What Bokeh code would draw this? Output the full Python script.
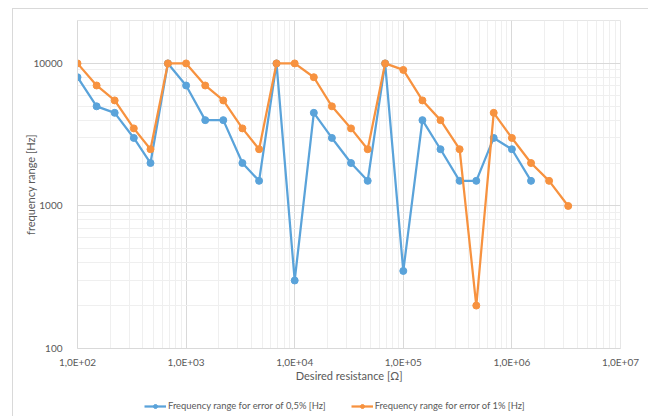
from bokeh.plotting import figure
from bokeh.layouts import column
from bokeh.models import FixedTicker, Legend, LegendItem, Range1d
from bokeh.embed import file_html
from bokeh.resources import INLINE

resistance = [100, 150, 220, 330, 470, 680, 1000, 1500, 2200, 3300, 4700, 6800,
              10000, 15000, 22000, 33000, 47000, 68000, 100000, 150000, 220000,
              330000, 470000, 680000, 1000000, 1500000, 2200000, 3300000]
freq_05 = [8000, 5000, 4500, 3000, 2000, 10000, 7000, 4000, 4000, 2000, 1500, 10000,
           300, 4500, 3000, 2000, 1500, 10000, 350, 4000, 2500, 1500, 1500, 3000,
           2500, 1500]
freq_1 = [10000, 7000, 5500, 3500, 2500, 10000, 10000, 7000, 5500, 3500, 2500, 10000,
          10000, 8000, 5000, 3500, 2500, 10000, 9000, 5500, 4000, 2500, 200, 4500,
          3000, 2000, 1500, 1000]

x_ticks = [100, 1000, 10000, 100000, 1000000, 10000000]
x_tick_labels = ["1,0E+02", "1,0E+03", "1,0E+04", "1,0E+05", "1,0E+06", "1,0E+07"]
y_ticks = [100, 1000, 10000]
y_tick_labels = ["100", "1000", "10000"]

label_05 = "Frequency range for error of 0,5% [Hz]"
label_1 = "Frequency range for error of 1% [Hz]"

BLUE = "#5AA3DA"
ORANGE = "#F7923F"
TEXT = "#595959"
FONT = "Lato"

p = figure(frame_width=543, frame_height=328, x_axis_type="log", y_axis_type="log",
           x_range=Range1d(100, 1e7), y_range=Range1d(100, 20000),
           output_backend="svg", toolbar_location=None,
           min_border_left=77, min_border_right=28, min_border_top=20,
           min_border_bottom=42)
p.border_fill_color = None

x_minor = [m * 10 ** e for e in range(2, 7) for m in range(2, 10)]
y_minor = [m * 10 ** e for e in range(2, 5) for m in range(2, 10)]

p.xaxis.ticker = FixedTicker(ticks=x_ticks, minor_ticks=x_minor)
p.yaxis.ticker = FixedTicker(ticks=y_ticks, minor_ticks=y_minor)
p.xaxis.major_label_overrides = {t: l for t, l in zip(x_ticks, x_tick_labels)}
p.yaxis.major_label_overrides = {t: l for t, l in zip(y_ticks, y_tick_labels)}

for ax in (p.xaxis, p.yaxis):
    ax.axis_line_color = "#d9d9d9"
    ax.major_tick_line_color = None
    ax.minor_tick_line_color = None
    ax.major_label_text_font = FONT
    ax.major_label_text_font_size = "10px"
    ax.major_label_text_color = TEXT
    ax.axis_label_text_font = FONT
    ax.axis_label_text_font_size = "11px"
    ax.axis_label_text_font_style = "normal"
    ax.axis_label_text_color = TEXT

p.xaxis.axis_label = "Desired resistance [Ω]"
p.yaxis.axis_label = "frequency range [Hz]"
p.xaxis.major_label_standoff = 1
p.xaxis.axis_label_standoff = -2
p.yaxis.major_label_standoff = 9
p.yaxis.axis_label_standoff = -7

p.xgrid.grid_line_color = "#d9d9d9"
p.ygrid.grid_line_color = "#d9d9d9"
p.xgrid.minor_grid_line_color = "#efefef"
p.ygrid.minor_grid_line_color = "#efefef"
p.outline_line_color = "#e6e6e6"

p.line(resistance[:len(freq_05)], freq_05, line_color=BLUE, line_width=2.25)
p.scatter(resistance[:len(freq_05)], freq_05, size=7, fill_color=BLUE, line_color=BLUE)
p.line(resistance[:len(freq_1)], freq_1, line_color=ORANGE, line_width=2.25)
p.scatter(resistance[:len(freq_1)], freq_1, size=7, fill_color=ORANGE, line_color=ORANGE)

# legend strip below the chart (proxy glyphs placed outside the visible range)
pl = figure(frame_width=648, frame_height=26, x_range=Range1d(0, 1), y_range=Range1d(0, 1),
            output_backend="svg", toolbar_location=None,
            min_border_left=0, min_border_right=0, min_border_top=0, min_border_bottom=0)
pl.axis.visible = False
pl.grid.visible = False
pl.outline_line_color = None
pl.border_fill_color = None
pl.background_fill_color = None
l1 = pl.line([5, 6], [5, 6], line_color=BLUE, line_width=2.25)
m1 = pl.scatter([5], [5], size=7, fill_color=BLUE, line_color=BLUE)
l2 = pl.line([5, 6], [5, 6], line_color=ORANGE, line_width=2.25)
m2 = pl.scatter([5], [5], size=7, fill_color=ORANGE, line_color=ORANGE)

legend = Legend(items=[LegendItem(label=label_05, renderers=[l1, m1]),
                       LegendItem(label=label_1, renderers=[l2, m2])],
                orientation="horizontal", location=(144, 5),
                label_text_font=FONT, label_text_font_size="9.4px",
                label_text_color=TEXT, glyph_width=22, glyph_height=10,
                label_height=10, label_standoff=2, spacing=25, padding=0, margin=0,
                border_line_color=None, background_fill_alpha=0)
pl.add_layout(legend)

layout = column(p, pl, spacing=0)
layout.styles = {
    "background": ("linear-gradient(#d9d9d9, #d9d9d9) 12px 8px / 1px 100% no-repeat, "
                   "linear-gradient(#d9d9d9, #d9d9d9) 12px 8px / 100% 1px no-repeat, #ffffff"),
}
open("out.html", "w").write(file_html(layout, INLINE))
